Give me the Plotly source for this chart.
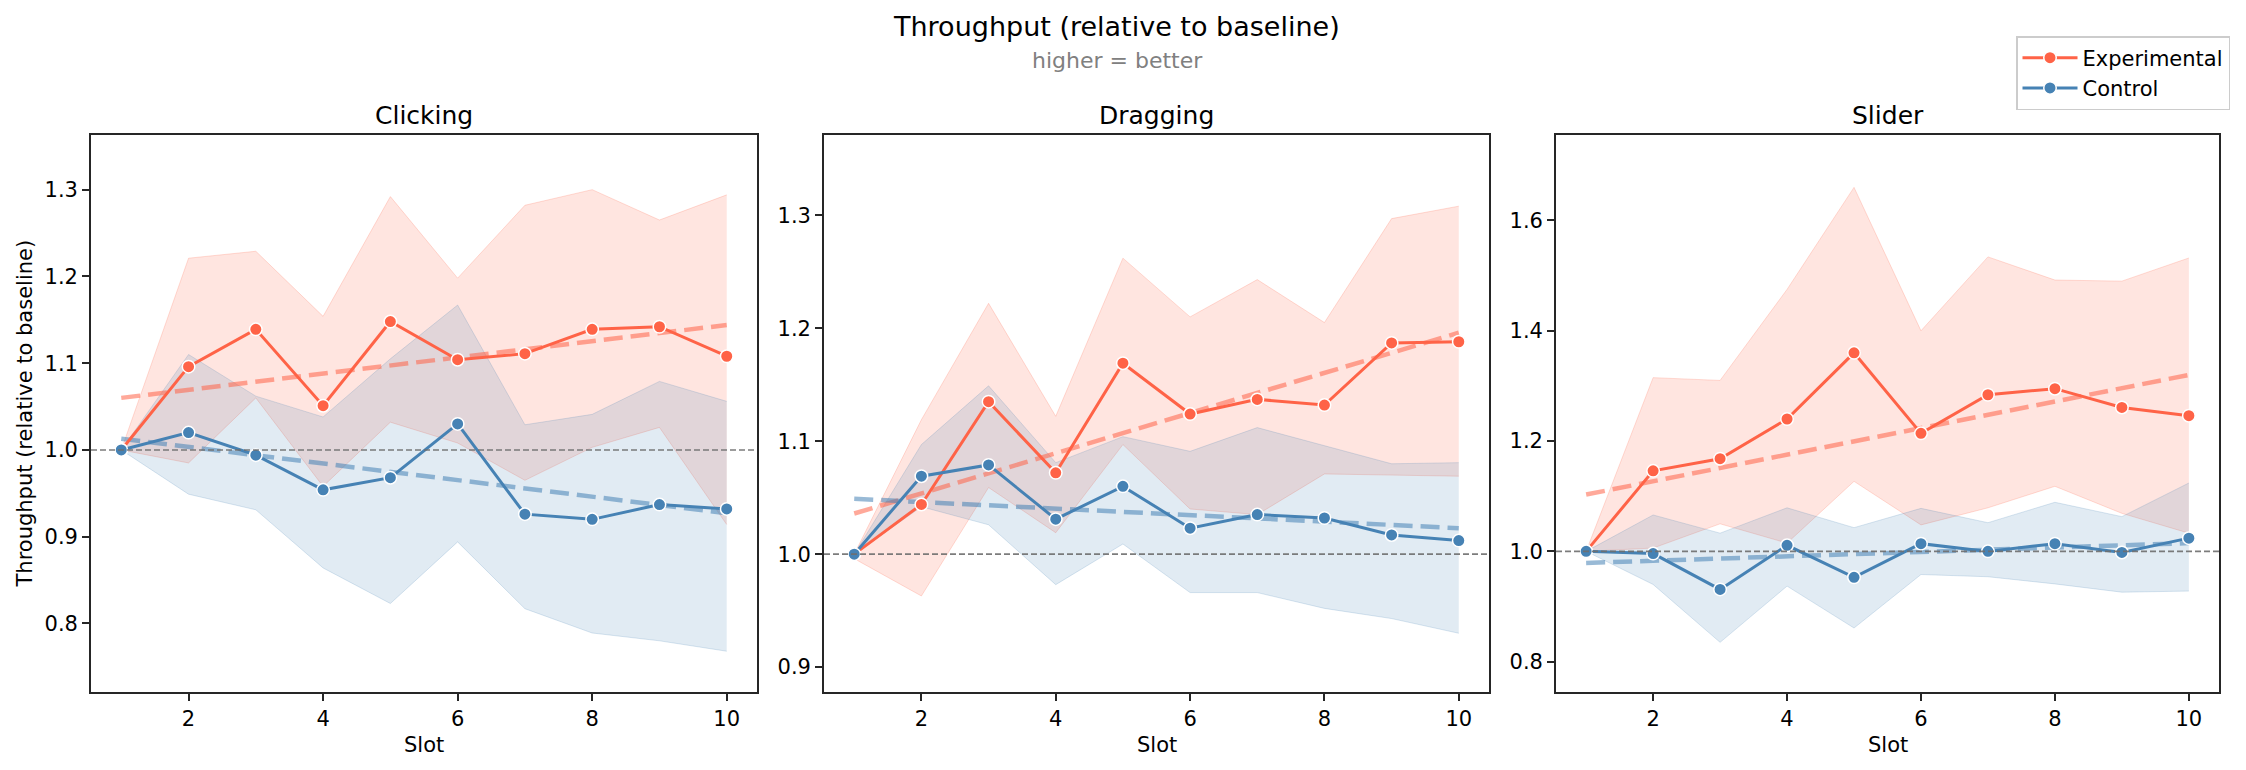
import plotly.graph_objects as go

W, H = 2246, 770

slots = [1, 2, 3, 4, 5, 6, 7, 8, 9, 10]
panel_titles = ["Clicking", "Dragging", "Slider"]
x_ticks = [2, 4, 6, 8, 10]

clicking_exp = [1.000, 1.096, 1.139, 1.051, 1.148, 1.104, 1.111, 1.139, 1.142, 1.108]
clicking_exp_hi = [1.000, 1.221, 1.229, 1.154, 1.292, 1.198, 1.282, 1.300, 1.265, 1.294]
clicking_exp_lo = [1.000, 0.985, 1.060, 0.958, 1.032, 1.008, 0.965, 1.003, 1.026, 0.914]
clicking_ctl = [1.000, 1.020, 0.994, 0.954, 0.968, 1.030, 0.926, 0.920, 0.937, 0.932]
clicking_ctl_hi = [1.000, 1.110, 1.062, 1.038, 1.105, 1.167, 1.029, 1.041, 1.079, 1.056]
clicking_ctl_lo = [1.000, 0.949, 0.931, 0.864, 0.823, 0.894, 0.817, 0.789, 0.780, 0.768]
clicking_exp_trend = [1.060, 1.144]
clicking_ctl_trend = [1.013, 0.927]

dragging_exp = [1.000, 1.044, 1.135, 1.072, 1.169, 1.124, 1.137, 1.132, 1.187, 1.188]
dragging_exp_hi = [1.000, 1.119, 1.222, 1.122, 1.262, 1.210, 1.243, 1.205, 1.297, 1.308]
dragging_exp_lo = [0.996, 0.963, 1.059, 1.019, 1.097, 1.040, 1.035, 1.071, 1.070, 1.069]
dragging_ctl = [1.000, 1.069, 1.079, 1.031, 1.060, 1.023, 1.035, 1.032, 1.017, 1.012]
dragging_ctl_hi = [1.000, 1.097, 1.149, 1.081, 1.104, 1.091, 1.112, 1.096, 1.080, 1.081]
dragging_ctl_lo = [1.000, 1.042, 1.026, 0.973, 1.009, 0.966, 0.966, 0.952, 0.943, 0.930]
dragging_exp_trend = [1.036, 1.196]
dragging_ctl_trend = [1.049, 1.023]

slider_exp = [1.000, 1.146, 1.168, 1.240, 1.360, 1.214, 1.284, 1.295, 1.261, 1.246]
slider_exp_hi = [1.000, 1.315, 1.310, 1.475, 1.660, 1.400, 1.534, 1.492, 1.490, 1.532]
slider_exp_lo = [1.000, 1.006, 1.050, 1.015, 1.127, 1.048, 1.079, 1.118, 1.069, 1.033]
slider_ctl = [1.000, 0.996, 0.931, 1.011, 0.953, 1.014, 1.000, 1.014, 0.998, 1.024]
slider_ctl_hi = [1.000, 1.066, 1.033, 1.079, 1.043, 1.078, 1.052, 1.089, 1.063, 1.124]
slider_ctl_lo = [1.000, 0.940, 0.835, 0.937, 0.861, 0.958, 0.954, 0.941, 0.926, 0.928]
slider_exp_trend = [1.103, 1.320]
slider_ctl_trend = [0.979, 1.015]

y_ranges = [[0.721, 1.363], [0.878, 1.371], [0.745, 1.755]]
y_ticks = [[0.8, 0.9, 1.0, 1.1, 1.2, 1.3],
           [0.9, 1.0, 1.1, 1.2, 1.3],
           [0.8, 1.0, 1.2, 1.4, 1.6]]

panels = [
    dict(exp=clicking_exp, exp_hi=clicking_exp_hi, exp_lo=clicking_exp_lo,
         ctl=clicking_ctl, ctl_hi=clicking_ctl_hi, ctl_lo=clicking_ctl_lo,
         exp_tr=clicking_exp_trend, ctl_tr=clicking_ctl_trend),
    dict(exp=dragging_exp, exp_hi=dragging_exp_hi, exp_lo=dragging_exp_lo,
         ctl=dragging_ctl, ctl_hi=dragging_ctl_hi, ctl_lo=dragging_ctl_lo,
         exp_tr=dragging_exp_trend, ctl_tr=dragging_ctl_trend),
    dict(exp=slider_exp, exp_hi=slider_exp_hi, exp_lo=slider_exp_lo,
         ctl=slider_ctl, ctl_hi=slider_ctl_hi, ctl_lo=slider_ctl_lo,
         exp_tr=slider_exp_trend, ctl_tr=slider_ctl_trend),
]

EXP = "#FF6347"
CTL = "#4682B4"
EXP_FILL = "rgba(255,99,71,0.17)"
CTL_FILL = "rgba(70,130,180,0.16)"
EXP_EDGE = "rgba(255,99,71,0.22)"
CTL_EDGE = "rgba(70,130,180,0.20)"
EXP_TR = "rgba(255,99,71,0.55)"
CTL_TR = "rgba(70,130,180,0.55)"
FONT = "DejaVu Sans"

x_px = [(91, 757), (824, 1489), (1556, 2219)]
y_top, y_bot = 135, 692

fig = go.Figure()

for i, p in enumerate(panels):
    ax = "" if i == 0 else str(i + 1)
    xa, ya = "x" + ax, "y" + ax
    # bands
    for hi, lo, fillc, edgec in [(p["exp_hi"], p["exp_lo"], EXP_FILL, EXP_EDGE),
                                 (p["ctl_hi"], p["ctl_lo"], CTL_FILL, CTL_EDGE)]:
        fig.add_trace(go.Scatter(x=slots, y=lo, mode="lines", line=dict(color=edgec, width=1),
                                 showlegend=False, hoverinfo="skip", xaxis=xa, yaxis=ya))
        fig.add_trace(go.Scatter(x=slots, y=hi, mode="lines", line=dict(color=edgec, width=1),
                                 fill="tonexty", fillcolor=fillc,
                                 showlegend=False, hoverinfo="skip", xaxis=xa, yaxis=ya))
    # trend lines
    for tr, c in [(p["exp_tr"], EXP_TR), (p["ctl_tr"], CTL_TR)]:
        fig.add_trace(go.Scatter(x=[slots[0], slots[-1]], y=tr, mode="lines",
                                 line=dict(color=c, width=4.5, dash="19px,8px"),
                                 showlegend=False, hoverinfo="skip", xaxis=xa, yaxis=ya))
    # main lines
    for vals, c, name in [(p["exp"], EXP, "Experimental"), (p["ctl"], CTL, "Control")]:
        fig.add_trace(go.Scatter(x=slots, y=vals, mode="lines+markers", name=name,
                                 line=dict(color=c, width=3),
                                 marker=dict(color=c, size=12.5, line=dict(color="white", width=1.5)),
                                 showlegend=(i == 0), legendgroup=name, xaxis=xa, yaxis=ya))

    x0, x1 = x_px[i]
    axis_common = dict(showline=True, mirror=True, linecolor="#262626", linewidth=1.7,
                       ticks="outside", ticklen=7, tickwidth=1.6, tickcolor="#262626",
                       showgrid=False, zeroline=False,
                       tickfont=dict(family=FONT, size=21, color="black"))
    fig.layout["xaxis" + ax] = dict(domain=[x0 / W, x1 / W], anchor=ya, range=[0.55, 10.45],
                                   tickvals=x_ticks, **axis_common)
    fig.layout["yaxis" + ax] = dict(domain=[1 - y_bot / H, 1 - y_top / H], anchor=xa,
                                   range=y_ranges[i], tickvals=y_ticks[i], tickformat=".1f",
                                   **axis_common)
    # baseline at 1.0
    fig.add_shape(type="line", xref=xa + " domain", yref=ya, x0=0, x1=1, y0=1.0, y1=1.0,
                  line=dict(color="rgba(110,110,110,0.9)", width=1.6, dash="6px,3px"))
    # panel title
    fig.add_annotation(text=panel_titles[i], xref="paper", yref="paper",
                       x=(x0 + x1) / 2 / W, y=1 - 115 / H, showarrow=False,
                       xanchor="center", yanchor="middle",
                       font=dict(family=FONT, size=25, color="black"))
    # x axis title
    fig.add_annotation(text="Slot", xref="paper", yref="paper",
                       x=(x0 + x1) / 2 / W, y=1 - 745 / H, showarrow=False,
                       xanchor="center", yanchor="middle",
                       font=dict(family=FONT, size=21, color="black"))

fig.add_annotation(text="Throughput (relative to baseline)", xref="paper", yref="paper",
                   x=24 / W, y=1 - ((y_top + y_bot) / 2) / H, textangle=-90, showarrow=False,
                   xanchor="center", yanchor="middle",
                   font=dict(family=FONT, size=21, color="black"))
fig.add_annotation(text="Throughput (relative to baseline)", xref="paper", yref="paper",
                   x=1116 / W, y=1 - 26 / H, showarrow=False, xanchor="center", yanchor="middle",
                   font=dict(family=FONT, size=27, color="black"))
fig.add_annotation(text="higher = better", xref="paper", yref="paper",
                   x=1117 / W, y=1 - 61 / H, showarrow=False, xanchor="center", yanchor="middle",
                   font=dict(family=FONT, size=22, color="#808080"))

fig.update_layout(
    width=W, height=H,
    margin=dict(l=0, r=0, t=0, b=0),
    paper_bgcolor="white", plot_bgcolor="white",
    font=dict(family=FONT, color="black"),
    showlegend=True,
    legend=dict(x=2016 / W, y=1 - 36 / H, xanchor="left", yanchor="top",
                bgcolor="rgba(255,255,255,0.9)", bordercolor="#cccccc", borderwidth=1.5,
                font=dict(family=FONT, size=21, color="black"),
                itemwidth=55, tracegroupgap=0),
)

fig.write_html("out.html")
